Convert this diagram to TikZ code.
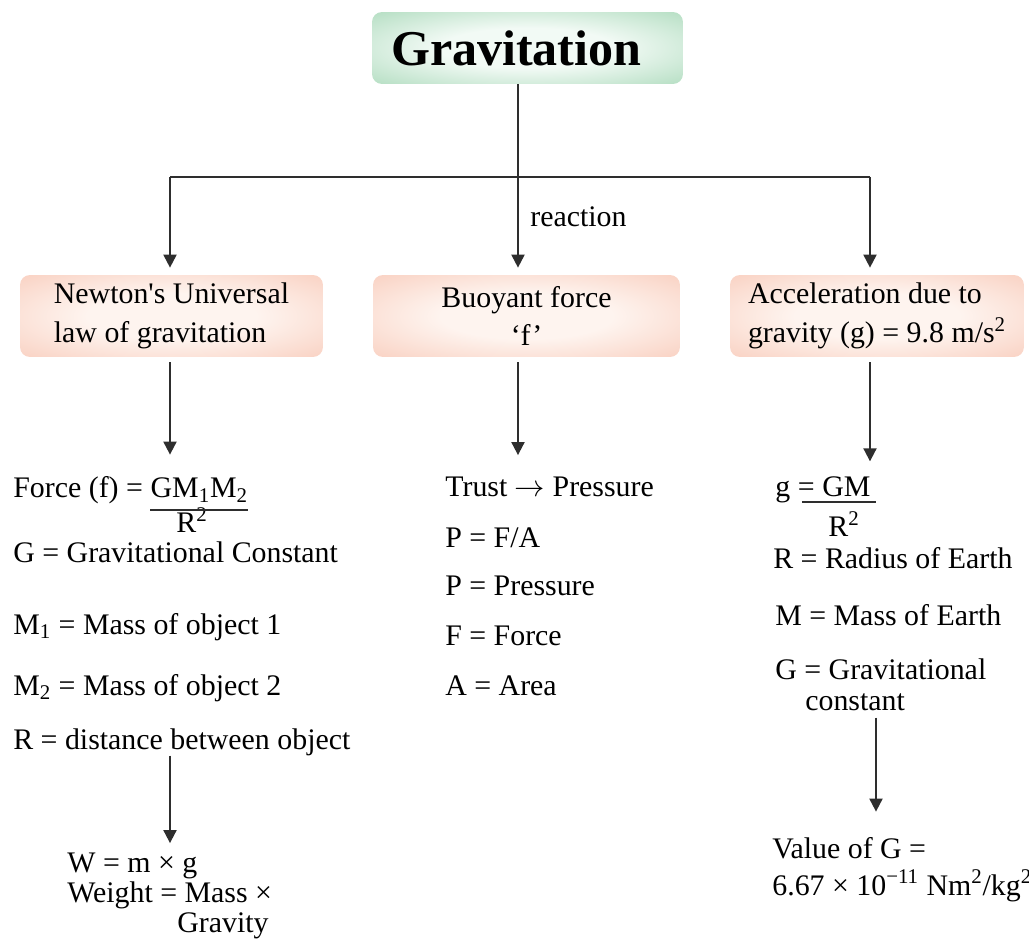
\documentclass[tikz,border=0pt]{standalone}
\usepackage{fontspec}
\setmainfont{Liberation Serif}
\usetikzlibrary{positioning,arrows.meta}

\definecolor{mintglow}{HTML}{F2FAF5}
\definecolor{leafgreen}{HTML}{8DCCA2}
\definecolor{blushglow}{HTML}{FEF4EF}
\definecolor{salmonedge}{HTML}{F6BBA6}
\definecolor{inkgrey}{HTML}{2E2E2E}

\pgfdeclareradialshading{greenglow}{\pgfpoint{0bp}{0bp}}{color(0bp)=(mintglow); color(14bp)=(mintglow); color(50bp)=(leafgreen)}
\pgfdeclareradialshading{pinkglow}{\pgfpoint{0bp}{0bp}}{color(0bp)=(blushglow); color(14bp)=(blushglow); color(50bp)=(salmonedge)}

\begin{document}
\begin{tikzpicture}[
    x=0.02cm, y=-0.02cm,
    font=\fontsize{17}{21}\selectfont,
    titlebox/.style={rounded corners=0.2cm, shading=greenglow,
        minimum width=6.22cm, minimum height=1.44cm, font=\fontsize{28.5}{32}\selectfont\bfseries},
    pinkbox/.style={rounded corners=0.2cm, shading=pinkglow,
        minimum height=1.64cm, align=left, font=\fontsize{17}{22}\selectfont},
    txt/.style={anchor=base west, inner sep=0pt},
    wire/.style={draw=inkgrey, line width=1.1pt},
    link/.style={wire, -{Triangle[length=0.26cm, width=0.26cm]}},
    fracbar/.style={draw=inkgrey, line width=0.8pt}
]
\useasboundingbox (0,0) rectangle (1029,939);

% boxes
\node[titlebox] (grav) at (527.5,48) {Gravitation\kern0.45cm};
\node[pinkbox, minimum width=6.06cm] (newton) at (171.5,316) {Newton\textquotesingle s Universal\\law of gravitation};
\node[pinkbox, minimum width=6.14cm, align=center] (buoyant) at (526.5,316) {Buoyant force\\‘f’};
\node[pinkbox, minimum width=5.88cm] (accel) at (877,316) {Acceleration due to\\gravity (g) = 9.8 m/s\textsuperscript{2}};

% branch points
\coordinate (hub) at (518,177);
\coordinate (barW) at (170,177);
\coordinate (barE) at (870,177);
\coordinate (stemR) at (876,177);

\node[txt] (reaction) at (530,227) {reaction};

% left column
\node[txt] (force) at (13,498) {Force (f) =};
\node[txt] (forcenum) [base right=0.14cm of force] {GM\textsubscript{1}M\textsubscript{2}};
\node[txt] (forceden) at (176,533) {R\textsuperscript{2}};
\draw[fracbar] ([yshift=-0.24cm]forcenum.base west) -- ([yshift=-0.24cm]forcenum.base east);
\node[txt] (gconst) at (13,562) {G = Gravitational Constant};
\node[txt] (massone) at (13,634) {M\textsubscript{1} = Mass of object 1};
\node[txt] (masstwo) at (13,695) {M\textsubscript{2} = Mass of object 2};
\node[txt] (dist) at (13,749) {R = distance between object};
\node[txt] (wmg) at (67,872) {W = m × g};
\node[txt] (weight) at (67,902) {Weight = Mass ×};
\node[txt] (gravity) at (177,932) {Gravity};

% middle column
\node[txt] (thrust) at (445,497) {Trust $\rightarrow$ Pressure};
\node[txt] (pfa) at (445,547) {P = F/A};
\node[txt] (pdef) at (445,596) {P = Pressure};
\node[txt] (fdef) at (445,645) {F = Force};
\node[txt] (adef) at (445,695) {A = Area};

% right column
\node[txt] (gdef) at (775,497) {g =};
\node[txt] (gnum) [base right=0.14cm of gdef] {GM};
\node[txt] (gden) at (828,537) {R\textsuperscript{2}};
\draw[fracbar] ([yshift=-0.1cm, xshift=-0.4cm]gnum.base west) -- ([yshift=-0.1cm, xshift=0.1cm]gnum.base east);
\node[txt] (radius) at (773,568) {R = Radius of Earth};
\node[txt] (mearth) at (775,625) {M = Mass of Earth};
\node[txt] (gravconst) at (775,680) {G = Gravitational};
\node[txt] (constant) at (805,710) {constant};
\node[txt] (valueg) at (772,858) {Value of G =};
\node[txt] (valuenum) at (772,895) {6.67 × 10\textsuperscript{−11} Nm\textsuperscript{2}/kg\textsuperscript{2}};

% connectors
\draw[wire] (barW) -- (barE);
\draw[link, shorten >=0.14cm] (grav.south -| hub) -- (buoyant.north -| hub);
\draw[link, shorten >=0.14cm] (barW) -- (newton.north -| barW);
\draw[link, shorten >=0.14cm] (barE) -- (accel.north -| barE);
\draw[link, shorten <=0.1cm, shorten >=0.44cm] (newton.south -| barW) -- (force.north -| barW);
\draw[link, shorten <=0.1cm, shorten >=0.44cm] (buoyant.south -| hub) -- (thrust.north -| hub);
\draw[link, shorten <=0.1cm, shorten >=0.4cm] (accel.south -| barE) -- (gdef.north -| barE);
\draw[link, shorten >=0.18cm] (dist.south -| barW) -- (wmg.north -| barW);
\draw[link, shorten <=0.14cm, shorten >=0.5cm] (constant.south -| stemR) -- (valueg.north -| stemR);
\end{tikzpicture}
\end{document}
